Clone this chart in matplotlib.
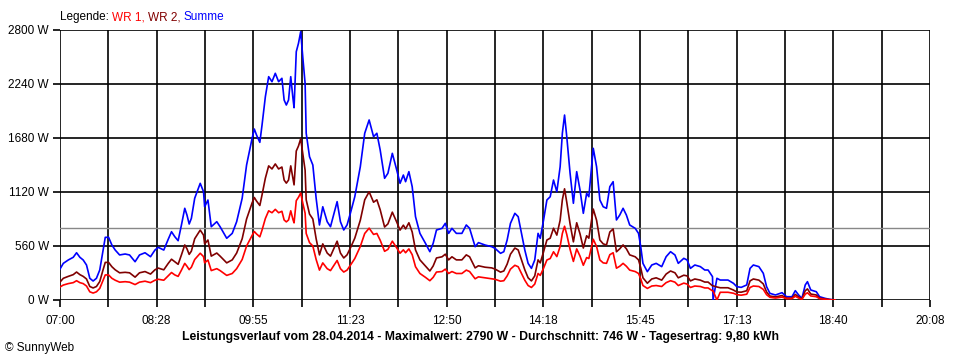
import numpy as np
import matplotlib
matplotlib.use("Agg")
import matplotlib.pyplot as plt

# minutes after 07:00
minutes = [0, 3, 7.5, 12, 15, 18, 21, 24, 27, 30, 33, 36, 39, 41, 44, 47, 50, 54, 59, 63,
           68, 72, 77, 82, 86, 89, 94, 98, 101, 104, 107, 110, 113, 115, 117, 119, 122, 127, 130, 131,
           134, 137, 142, 145, 151, 156, 160, 165, 169, 174, 176, 178, 181, 183, 186, 189, 192, 195, 198, 201,
           203, 205, 207, 209, 211, 212, 214, 216, 218, 220, 222, 223, 226, 229, 232, 235, 238, 242, 245, 251,
           254, 257, 260, 263, 267, 272, 276, 280, 284, 287, 290, 294, 297, 301, 305, 308, 311, 313, 316, 319,
           322, 326, 331, 335, 338, 341, 346, 349, 352, 355, 359, 364, 368, 371, 376, 379, 385, 391, 394, 399,
           402, 405, 408, 412, 415, 418, 421, 424, 427, 430, 433, 435, 438, 441, 444, 447, 450, 453, 455, 457,
           459, 462, 465, 468, 471, 474, 477, 479, 483, 486, 489, 492, 495, 498, 501, 504, 507, 510, 513, 516,
           521, 524, 526, 528, 532, 536, 540, 545, 549, 553, 557, 560, 565, 568, 571, 575, 580, 584, 587, 591,
           591.5, 595, 598, 605, 610, 613, 617, 622, 625, 628, 633, 637, 640, 643, 648, 654, 658, 663, 666, 669,
           672, 675, 677, 680, 685, 688, 693, 697, 702]

summe = [321, 380, 415, 443, 490, 443, 415, 363, 225, 197, 225, 311, 518, 650, 650, 570, 518, 467, 477, 467,
         397, 467, 490, 449, 518, 546, 518, 629, 708, 656, 615, 778, 951, 881, 788, 847, 1055, 1210, 1123, 967,
         1037, 760, 812, 760, 640, 691, 812, 1055, 1400, 1677, 1773, 1711, 1635, 1815, 2108, 2316, 2264, 2351, 2264, 2299,
         2074, 2022, 2074, 2316, 2091, 1994, 2575, 2662, 2782, 2506, 2247, 1729, 1486, 1400, 1055, 778, 967, 812, 760, 1020,
         812, 726, 778, 899, 1071, 1382, 1729, 1867, 1694, 1729, 1556, 1262, 1314, 1521, 1348, 1210, 1296, 1227, 1331, 1175,
         864, 691, 588, 501, 588, 726, 743, 795, 691, 743, 691, 691, 778, 743, 553, 595, 570, 553, 536, 484,
         501, 622, 795, 899, 864, 691, 518, 380, 328, 415, 691, 640, 830, 1037, 1071, 1244, 1123, 1382, 1729, 1918,
         1694, 1314, 1003, 1331, 1141, 899, 1106, 1071, 1573, 1382, 1037, 967, 951, 1175, 1227, 830, 881, 951, 881, 778,
         743, 691, 553, 380, 294, 363, 380, 346, 449, 501, 467, 380, 432, 415, 328, 363, 346, 311, 311, 242,
         0, 225, 207, 207, 173, 138, 131, 156, 328, 363, 346, 277, 138, 69, 52, 76, 34, 34, 97, 52,
         17, 156, 190, 104, 86, 34, 17, 7, 0]

wr1 = [135, 155, 170, 180, 200, 180, 170, 145, 85, 72, 85, 120, 205, 260, 260, 225, 205, 185, 190, 185,
       160, 185, 195, 180, 205, 215, 205, 250, 285, 260, 245, 310, 380, 350, 315, 340, 420, 485, 450, 385,
       415, 305, 325, 305, 255, 275, 325, 420, 560, 670, 710, 685, 655, 725, 845, 925, 905, 940, 905, 920,
       830, 810, 830, 925, 835, 800, 1030, 1065, 1110, 1000, 900, 690, 595, 560, 420, 310, 385, 325, 305, 410,
       325, 290, 310, 360, 430, 555, 690, 745, 680, 690, 620, 505, 525, 610, 540, 485, 520, 490, 530, 470,
       345, 275, 235, 200, 235, 290, 295, 320, 275, 295, 275, 275, 310, 295, 220, 240, 230, 220, 215, 195,
       200, 250, 320, 360, 345, 275, 205, 150, 130, 165, 275, 255, 330, 415, 430, 500, 450, 555, 690, 765,
       680, 525, 400, 530, 455, 360, 440, 430, 630, 555, 415, 385, 380, 470, 490, 330, 350, 380, 350, 310,
       295, 275, 220, 150, 120, 145, 150, 140, 180, 200, 185, 150, 175, 165, 130, 145, 140, 125, 125, 95,
       95, 0, 80, 80, 70, 55, 50, 60, 130, 145, 140, 110, 55, 28, 20, 30, 14, 14, 39, 20,
       7, 60, 75, 42, 34, 14, 7, 3, 0]

wr2 = [186, 225, 245, 263, 290, 263, 245, 218, 140, 125, 140, 191, 313, 390, 390, 345, 313, 282, 287, 282,
       237, 282, 295, 269, 313, 331, 313, 379, 423, 396, 370, 468, 571, 531, 473, 507, 635, 725, 673, 582,
       622, 455, 487, 455, 385, 416, 487, 635, 840, 1007, 1063, 1026, 980, 1090, 1263, 1391, 1359, 1411, 1359, 1379,
       1244, 1212, 1244, 1391, 1256, 1194, 1545, 1597, 1672, 1506, 1347, 1039, 891, 840, 635, 468, 582, 487, 455, 610,
       487, 436, 468, 539, 641, 827, 1039, 1122, 1014, 1039, 936, 757, 789, 911, 808, 725, 776, 737, 801, 705,
       519, 416, 353, 301, 353, 436, 448, 475, 416, 448, 416, 416, 468, 448, 333, 355, 340, 333, 321, 289,
       301, 372, 475, 539, 519, 416, 313, 230, 198, 250, 416, 385, 500, 622, 641, 744, 673, 827, 1039, 1153,
       1014, 789, 603, 801, 686, 539, 666, 641, 943, 827, 622, 582, 571, 705, 737, 500, 531, 571, 531, 468,
       448, 416, 333, 230, 174, 218, 230, 206, 269, 301, 282, 230, 257, 250, 198, 218, 206, 186, 186, 147,
       147, 135, 127, 127, 103, 83, 81, 96, 198, 218, 206, 167, 83, 41, 32, 46, 20, 20, 58, 32,
       10, 96, 115, 62, 52, 20, 10, 4, 0]

average = 746
y_ticks = [0, 560, 1120, 1680, 2240, 2800]
x_labels = ["07:00", "08:28", "09:55", "11:23", "12:50", "14:18", "15:45", "17:13", "18:40", "20:08"]
day_span = 788  # 07:00 .. 20:08

plt.rcParams['font.family'] = ['Liberation Sans', 'DejaVu Sans']

fig = plt.figure(figsize=(9.6, 3.6), dpi=100)
ax = fig.add_axes([60 / 960, 60 / 360, 870 / 960, 270 / 360])

x_ticks = np.linspace(0, day_span, 19)
for xt in x_ticks:
    ax.axvline(xt, color='black', lw=1.2, zorder=1)
for yt in y_ticks:
    ax.axhline(yt, color='black', lw=1.2, zorder=1)
ax.axhline(average, color='#888888', lw=1.0, zorder=1.5)

ax.plot(minutes, summe, color='#0000FF', lw=1.2, zorder=3)
ax.plot(minutes, wr2, color='#800000', lw=1.2, zorder=3)
ax.plot(minutes, wr1, color='#FF0000', lw=1.2, zorder=3)

ax.set_xlim(0, day_span)
ax.set_ylim(0, 2800)
for s in ax.spines.values():
    s.set_visible(False)

ax.set_xticks(x_ticks)
ax.set_xticklabels([x_labels[i // 2] if i % 2 == 0 else "" for i in range(19)])
ax.set_yticks(y_ticks)
ax.set_yticklabels([f"{v} W" for v in y_ticks])
ax.tick_params(axis='both', length=5, width=1.2, colors='black', labelsize=8.5, pad=3)
ax.tick_params(axis='x', pad=6)

# legend line at top
renderer = fig.canvas.get_renderer()
xpos = 60
for txt, col in [("Legende: ", 'black'), ("WR 1, ", '#FF0000'), ("WR 2, ", '#800000'), ("Summe", '#0000FF')]:
    t = fig.text(xpos / 960, 1 - 17 / 360, txt, color=col, fontsize=8.5, va='center', ha='left')
    bb = t.get_window_extent(renderer=renderer)
    xpos += bb.width

fig.text(480 / 960, 1 - 337 / 360,
         "Leistungsverlauf vom 28.04.2014 - Maximalwert: 2790 W - Durchschnitt: 746 W - Tagesertrag: 9,80 kWh",
         ha='center', va='center', fontsize=8.8, fontweight='bold')
fig.text(5 / 960, 1 - 348 / 360, "© SunnyWeb", ha='left', va='center', fontsize=8.5)

fig.savefig("out.png", dpi=100)
